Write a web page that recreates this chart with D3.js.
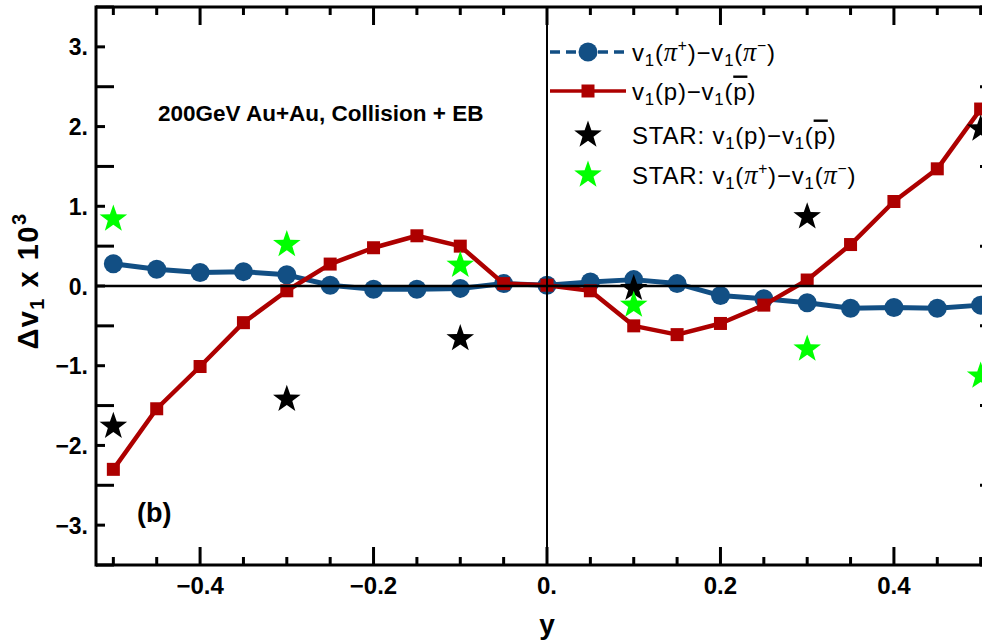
<!DOCTYPE html>
<html>
<head>
<meta charset="utf-8">
<script src="https://cdn.jsdelivr.net/npm/d3@7"></script>
<style>
  html, body { margin: 0; padding: 0; background: #fff; }
  svg { display: block; }
  text { font-family: "Liberation Sans", Arial, sans-serif; }
</style>
</head>
<body>
<svg id="chart" width="982" height="640"></svg>
<script>
// Rapidity bins of the model curves
const rapidity = [-0.5, -0.45, -0.4, -0.35, -0.3, -0.25, -0.2, -0.15, -0.1, -0.05, 0,
                  0.05, 0.1, 0.15, 0.2, 0.25, 0.3, 0.35, 0.4, 0.45, 0.5];
// Δv1 × 10^3 for pions: v1(π+) − v1(π−)
const dv1Pion = [0.28, 0.21, 0.17, 0.18, 0.14, 0.01, -0.04, -0.04, -0.03, 0.03, 0.01,
                 0.05, 0.08, 0.03, -0.12, -0.16, -0.21, -0.28, -0.27, -0.28, -0.24];
// Δv1 × 10^3 for protons: v1(p) − v1(p̄)
const dv1Proton = [-2.3, -1.54, -1.01, -0.46, -0.06, 0.275, 0.48, 0.63, 0.5, 0.03, 0.01,
                   -0.06, -0.5, -0.61, -0.47, -0.24, 0.075, 0.52, 1.06, 1.47, 2.22];
// STAR measurements
const starRapidity = [-0.5, -0.3, -0.1, 0.1, 0.3, 0.5];
const starProton = [-1.76, -1.42, -0.66, -0.03, 0.87, 1.97];
const starPion = [0.84, 0.52, 0.26, -0.24, -0.79, -1.13];
// Axis ticks
const xTickLabels = [-0.4, -0.2, 0, 0.2, 0.4];
const yTickLabels = [-3, -2, -1, 0, 1, 2, 3];

(function draw() {
  const svg = d3.select("#chart");
  const pLeft = 96, pRight = 998, pTop = 7, pBottom = 565;

  const x = d3.scaleLinear().domain([-0.52, 0.52]).range([pLeft, pRight]);
  const y = d3.scaleLinear().domain([-3.5, 3.5]).range([pBottom, pTop]);

  const fmtX = v => v === 0 ? "0." : d3.format(".1f")(v).replace("-", "\u2212");
  const fmtY = v => (v < 0 ? "\u2212" : "") + Math.abs(v) + ".";

  const blue = "#124f84", red = "#ad0000", green = "#00ff00";

  // Frame
  const frame = svg.append("g");
  const axisW = 3;
  frame.append("line").attr("x1", pLeft).attr("x2", pLeft).attr("y1", pTop - 1.5).attr("y2", pBottom + 1.5)
    .attr("stroke", "#000").attr("stroke-width", axisW);
  frame.append("line").attr("x1", pRight).attr("x2", pRight).attr("y1", pTop).attr("y2", pBottom)
    .attr("stroke", "#000").attr("stroke-width", axisW);
  frame.append("line").attr("x1", pLeft).attr("x2", pRight).attr("y1", pTop).attr("y2", pTop)
    .attr("stroke", "#000").attr("stroke-width", axisW);
  frame.append("line").attr("x1", pLeft).attr("x2", pRight).attr("y1", pBottom).attr("y2", pBottom)
    .attr("stroke", "#000").attr("stroke-width", axisW);

  // x ticks: every 0.05, long at multiples of 0.2
  const xTicks = d3.range(-10, 11).map(i => i * 0.05);
  xTicks.forEach((t, i) => {
    const major = (i - 10) % 4 === 0;
    const len = major ? 18 : 8;
    frame.append("line").attr("x1", x(t)).attr("x2", x(t)).attr("y1", pBottom).attr("y2", pBottom - len)
      .attr("stroke", "#000").attr("stroke-width", 3);
    frame.append("line").attr("x1", x(t)).attr("x2", x(t)).attr("y1", pTop).attr("y2", pTop + len)
      .attr("stroke", "#000").attr("stroke-width", 3);
  });
  // y ticks: every 0.5, integers short, halves long
  const yTicks = d3.range(-7, 8).map(i => i * 0.5);
  yTicks.forEach(t => {
    const len = Number.isInteger(t) ? 9 : 18;
    frame.append("line").attr("x1", pLeft).attr("x2", pLeft + len).attr("y1", y(t)).attr("y2", y(t))
      .attr("stroke", "#000").attr("stroke-width", 3);
    frame.append("line").attr("x1", pRight).attr("x2", pRight - len).attr("y1", y(t)).attr("y2", y(t))
      .attr("stroke", "#000").attr("stroke-width", 3);
  });

  // Tick labels
  svg.append("g").selectAll("text").data(xTickLabels).join("text")
    .attr("x", d => x(d)).attr("y", 594).attr("text-anchor", "middle")
    .attr("font-size", 24).attr("font-weight", "bold").text(fmtX);
  svg.append("g").selectAll("text").data(yTickLabels).join("text")
    .attr("x", 88).attr("y", d => y(d) + 8.5).attr("text-anchor", "end")
    .attr("font-size", 23).attr("font-weight", "bold").text(fmtY);

  // Axis titles
  svg.append("text").attr("x", x(0)).attr("y", 633.5).attr("text-anchor", "middle")
    .attr("font-size", 28).attr("font-weight", "bold").text("y");
  const yTitle = svg.append("text").attr("transform", "translate(38,281) rotate(-90)")
    .attr("text-anchor", "middle").attr("font-size", 29).attr("font-weight", "bold")
    .attr("letter-spacing", 1.5);
  yTitle.append("tspan").text("\u0394v");
  yTitle.append("tspan").attr("font-size", 20).attr("dy", 6).text("1");
  yTitle.append("tspan").attr("dy", -6).text(" x 10");
  yTitle.append("tspan").attr("font-size", 20).attr("dy", -12).text("3");

  // Model curves
  const line = d3.line().x(d => x(d[0])).y(d => y(d[1]));
  const pionPts = rapidity.map((r, i) => [r, dv1Pion[i]]);
  const protonPts = rapidity.map((r, i) => [r, dv1Proton[i]]);

  const data = svg.append("g");
  data.append("path").datum(pionPts).attr("d", line).attr("fill", "none")
    .attr("stroke", blue).attr("stroke-width", 5).attr("stroke-linejoin", "round");
  data.selectAll("circle.pion").data(pionPts).join("circle").attr("class", "pion")
    .attr("cx", d => x(d[0])).attr("cy", d => y(d[1])).attr("r", 9.5).attr("fill", blue);

  data.append("path").datum(protonPts).attr("d", line).attr("fill", "none")
    .attr("stroke", red).attr("stroke-width", 4.5).attr("stroke-linejoin", "round");
  const sq = 13;
  data.selectAll("rect.proton").data(protonPts).join("rect").attr("class", "proton")
    .attr("x", d => x(d[0]) - sq / 2).attr("y", d => y(d[1]) - sq / 2)
    .attr("width", sq).attr("height", sq).attr("fill", red);

  // Zero lines
  svg.append("line").attr("x1", pLeft).attr("x2", pRight).attr("y1", y(0)).attr("y2", y(0))
    .attr("stroke", "#000").attr("stroke-width", 2.5);
  svg.append("line").attr("x1", x(0)).attr("x2", x(0)).attr("y1", pTop).attr("y2", pBottom)
    .attr("stroke", "#000").attr("stroke-width", 2);

  // Five-pointed star path centred on the origin
  function starPath(R) {
    const r = R * 0.4;
    const pts = d3.range(10).map(i => {
      const a = -Math.PI / 2 + i * Math.PI / 5;
      const rad = i % 2 === 0 ? R : r;
      return [rad * Math.cos(a), rad * Math.sin(a)];
    });
    return "M" + pts.map(p => p.join(",")).join("L") + "Z";
  }
  const star = starPath(14.5);

  svg.append("g").selectAll("path").data(starRapidity.map((r, i) => [r, starProton[i]])).join("path")
    .attr("d", star).attr("transform", d => `translate(${x(d[0])},${y(d[1])})`).attr("fill", "#000");
  svg.append("g").selectAll("path").data(starRapidity.map((r, i) => [r, starPion[i]])).join("path")
    .attr("d", star).attr("transform", d => `translate(${x(d[0])},${y(d[1])})`).attr("fill", green);

  // Annotations
  svg.append("text").attr("x", 158).attr("y", 120.5).attr("font-size", 22.5).attr("font-weight", "bold")
    .text("200GeV Au+Au, Collision + EB");
  svg.append("text").attr("x", 137).attr("y", 522).attr("font-size", 27).attr("font-weight", "bold")
    .text("(b)");

  // Legend
  const legend = svg.append("g");
  const lx = 588, tx = 632, fs = 24;
  const rows = [52, 91, 135, 175];

  legend.append("line").attr("x1", 550).attr("x2", 624).attr("y1", rows[0]).attr("y2", rows[0])
    .attr("stroke", blue).attr("stroke-width", 3.5).attr("stroke-dasharray", "10,6");
  legend.append("circle").attr("cx", lx).attr("cy", rows[0]).attr("r", 9.5).attr("fill", blue);
  legend.append("line").attr("x1", 550).attr("x2", 626).attr("y1", rows[1]).attr("y2", rows[1])
    .attr("stroke", red).attr("stroke-width", 3.5);
  legend.append("rect").attr("x", lx - sq / 2).attr("y", rows[1] - sq / 2).attr("width", sq).attr("height", sq)
    .attr("fill", red);
  legend.append("path").attr("d", star).attr("transform", `translate(${lx},${rows[2]})`).attr("fill", "#000");
  legend.append("path").attr("d", star).attr("transform", `translate(${lx},${rows[3]})`).attr("fill", green);

  // Builds "v1(...)−v1(...)" style labels from pieces
  function addLabel(yPos, parts) {
    const t = legend.append("text").attr("x", tx).attr("y", yPos + 8.5).attr("font-size", fs)
      .attr("letter-spacing", 0.8);
    parts.forEach(p => {
      const s = t.append("tspan").text(p.t);
      if (p.sub) s.attr("font-size", fs * 0.7).attr("dy", 5);
      if (p.up) s.attr("dy", -5);
      if (p.sup) s.attr("font-size", fs * 0.65).attr("dy", -10);
      if (p.down) s.attr("dy", 10);
      if (p.pi) s.attr("font-family", "'Liberation Serif', serif").attr("font-style", "italic")
        .attr("font-size", fs * 1.1);
      if (p.bar) s.style("text-decoration", "overline");
    });
  }
  const pionParts = [
    { t: "v" }, { t: "1", sub: true }, { t: "(", up: true }, { t: "\u03c0", pi: true },
    { t: "+", sup: true }, { t: ")", down: true }, { t: "\u2212v" }, { t: "1", sub: true },
    { t: "(", up: true }, { t: "\u03c0", pi: true }, { t: "\u2212", sup: true }, { t: ")", down: true }
  ];
  const protonParts = [
    { t: "v" }, { t: "1", sub: true }, { t: "(p)\u2212v", up: true }, { t: "1", sub: true },
    { t: "(", up: true }, { t: "p", bar: true }, { t: ")" }
  ];
  addLabel(rows[0], pionParts);
  addLabel(rows[1], protonParts);
  addLabel(rows[2], [{ t: "STAR: " }].concat(protonParts));
  addLabel(rows[3], [{ t: "STAR: " }].concat(pionParts));
})();
</script>
</body>
</html>
